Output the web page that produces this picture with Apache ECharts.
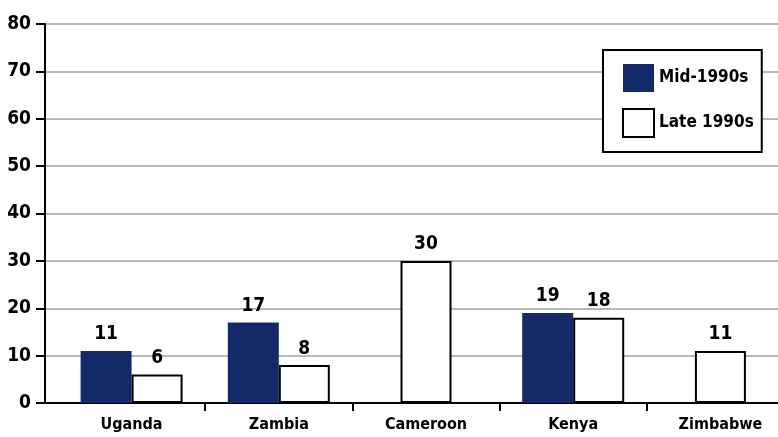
<!DOCTYPE html>
<html>
<head>
<meta charset="utf-8">
<script src="https://cdn.jsdelivr.net/npm/echarts@6/dist/echarts.min.js"></script>
<style>html,body{margin:0;padding:0;background:#fff}#c{width:778px;height:437px}</style>
</head>
<body>
<div id="c"></div>
<script>
var categories = ['Uganda', 'Zambia', 'Cameroon', 'Kenya', 'Zimbabwe'];
var midValues = [11, 17, null, 19, null];
var lateValues = [6, 8, 30, 18, 11];
var yTicks = [0, 10, 20, 30, 40, 50, 60, 70, 80];

var FONT = "'DejaVu Sans Condensed', 'DejaVu Sans', sans-serif";
var WEIGHT = 'bold condensed';
var NAVY = '#142a68';

var latePaired = lateValues.map(function (v, i) { return midValues[i] == null ? null : v; });
var lateSingle = lateValues.map(function (v, i) { return midValues[i] == null ? v : null; });

var chart = echarts.init(document.getElementById('c'));
var labelCfg = { show: true, position: 'top', distance: 7, color: '#000', fontFamily: FONT, fontWeight: WEIGHT, fontSize: 19 };
var lateStyle = { color: '#fff', borderColor: '#000', borderWidth: 2 };

chart.setOption({
  animation: false,
  grid: [
    { left: 58, width: 736, top: 24, bottom: 34, outerBoundsMode: 'none', containLabel: false },
    { left: 45, right: 0, top: 24, bottom: 34, outerBoundsMode: 'none', containLabel: false }
  ],
  legend: {
    orient: 'vertical', left: 603, top: 50,
    padding: [14, 8, 14, 19],
    itemWidth: 31, itemHeight: 28, itemGap: 16,
    borderColor: '#000', borderWidth: 2, backgroundColor: '#fff',
    textStyle: { fontFamily: FONT, fontWeight: WEIGHT, fontSize: 17, color: '#000' },
    data: [
      { name: 'Mid-1990s', icon: 'rect', itemStyle: { color: NAVY, borderWidth: 0 } },
      { name: 'Late 1990s', icon: 'rect', itemStyle: { color: '#fff', borderColor: '#000', borderWidth: 2 } }
    ]
  },
  xAxis: [
    {
      type: 'category', gridIndex: 0, data: categories,
      axisLine: { show: false },
      axisTick: { show: true, length: 8, lineStyle: { color: '#000', width: 2 }, interval: function (i) { return i !== 0; } },
      axisLabel: { color: '#000', fontFamily: FONT, fontWeight: WEIGHT, fontSize: 16, margin: 14 }
    },
    { type: 'category', gridIndex: 0, data: categories, show: false },
    {
      type: 'value', gridIndex: 1, min: 0, max: 1,
      axisLine: { show: true, lineStyle: { color: '#000', width: 2 } },
      axisTick: { show: false }, axisLabel: { show: false }, splitLine: { show: false }
    }
  ],
  yAxis: [
    { type: 'value', gridIndex: 0, min: 0, max: 80, interval: 10, show: false, splitLine: { show: false } },
    {
      type: 'value', gridIndex: 1, min: 0, max: 80, interval: 10,
      axisLine: { show: true, lineStyle: { color: '#000', width: 2 } },
      axisTick: { show: true, length: 9, lineStyle: { color: '#000', width: 2 } },
      axisLabel: { color: '#000', fontFamily: FONT, fontWeight: WEIGHT, fontSize: 19, margin: 14 },
      splitLine: { show: true, lineStyle: { color: '#a0a0a0', width: 1.5 } }
    }
  ],
  series: [
    { name: 'Mid-1990s', type: 'bar', xAxisIndex: 0, yAxisIndex: 0, data: midValues, barWidth: 51, barGap: '0%',
      itemStyle: { color: NAVY }, label: labelCfg },
    { name: 'Late 1990s', type: 'bar', xAxisIndex: 0, yAxisIndex: 0, data: latePaired, barWidth: 51, barGap: '0%',
      itemStyle: lateStyle, label: labelCfg },
    { name: 'Late 1990s', type: 'bar', xAxisIndex: 1, yAxisIndex: 0, data: lateSingle, barWidth: 51,
      itemStyle: lateStyle, label: labelCfg }
  ]
});
</script>
</body>
</html>
